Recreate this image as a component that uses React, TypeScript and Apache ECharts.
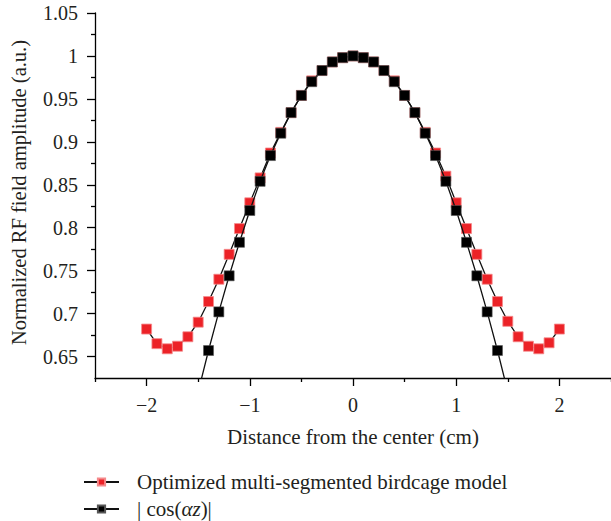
import React, { useEffect, useRef } from "react";
import * as echarts from "echarts";

const optName = "Optimized multi-segmented birdcage model";
const cosName = "| cos(αz)|";

const optX = [-2, -1.9, -1.8, -1.7, -1.6, -1.5, -1.4, -1.3, -1.2, -1.1, -1.0, -0.9, -0.8, -0.7, -0.6, -0.5, -0.4, -0.3, -0.2, -0.1, 0, 0.1, 0.2, 0.3, 0.4, 0.5, 0.6, 0.7, 0.8, 0.9, 1.0, 1.1, 1.2, 1.3, 1.4, 1.5, 1.6, 1.7, 1.8, 1.9, 2.0];
const optY = [0.682, 0.665, 0.659, 0.662, 0.673, 0.690, 0.714, 0.740, 0.769, 0.799, 0.829, 0.858, 0.887, 0.911, 0.934, 0.954, 0.971, 0.983, 0.993, 0.998, 1.0, 0.998, 0.993, 0.983, 0.971, 0.954, 0.934, 0.911, 0.887, 0.860, 0.829, 0.799, 0.769, 0.740, 0.714, 0.691, 0.673, 0.662, 0.659, 0.666, 0.682];

const cosX = [-1.5, -1.4, -1.3, -1.2, -1.1, -1.0, -0.9, -0.8, -0.7, -0.6, -0.5, -0.4, -0.3, -0.2, -0.1, 0, 0.1, 0.2, 0.3, 0.4, 0.5, 0.6, 0.7, 0.8, 0.9, 1.0, 1.1, 1.2, 1.3, 1.4, 1.5];
const cosY = [0.609, 0.657, 0.702, 0.744, 0.783, 0.820, 0.854, 0.884, 0.910, 0.934, 0.954, 0.970, 0.983, 0.993, 0.998, 1.0, 0.998, 0.993, 0.983, 0.970, 0.954, 0.934, 0.910, 0.884, 0.854, 0.820, 0.783, 0.744, 0.702, 0.657, 0.609];

const xTicks = [-2, -1, 0, 1, 2];
const xMinorTicks = [-2.5, -1.5, -0.5, 0.5, 1.5, 2.5];
const yTicks = [0.65, 0.7, 0.75, 0.8, 0.85, 0.9, 0.95, 1, 1.05];
const yMinorTicks = [0.675, 0.725, 0.775, 0.825, 0.875, 0.925, 0.975, 1.025];

const FONT = "'Liberation Serif', 'Times New Roman', serif";
const TXT = "#231f20";

export default function App() {
  const ref = useRef<HTMLDivElement>(null);
  useEffect(() => {
    if (!ref.current) return;
    const chart = echarts.init(ref.current, null, { renderer: "svg" });
    const fmtX = (v: number) => (v < 0 ? "\u2212" + Math.abs(v) : String(v));
    const legendText = {
      fontFamily: FONT,
      fontSize: 21,
      lineHeight: 22,
      color: TXT,
      padding: [0, 0, 0, 13],
      rich: {
        it: { fontFamily: FONT, fontSize: 21, lineHeight: 22, fontStyle: "italic", color: TXT },
      },
    };
    chart.setOption({
      animation: false,
      backgroundColor: "#ffffff",
      grid: { left: 91, top: 13, width: 522, height: 365, containLabel: false },
      xAxis: [
        {
          type: "value",
          min: -2.5,
          max: 2.5,
          name: "Distance from the center (cm)",
          nameLocation: "middle",
          nameGap: 48,
          nameTextStyle: { fontFamily: FONT, fontSize: 21, color: TXT },
          axisLine: { show: true, onZero: false, lineStyle: { color: "#000", width: 1.3 } },
          axisTick: { show: true, inside: false, length: 8, customValues: xTicks, lineStyle: { color: "#000", width: 1.3 } },
          axisLabel: { show: true, customValues: xTicks, margin: 17, formatter: fmtX, fontFamily: FONT, fontSize: 20, color: TXT },
          splitLine: { show: false },
        },
        {
          type: "value",
          min: -2.5,
          max: 2.5,
          position: "bottom",
          axisLine: { show: false, onZero: false },
          axisTick: { show: true, length: 4, customValues: xMinorTicks, lineStyle: { color: "#000", width: 1.3 } },
          axisLabel: { show: false },
          splitLine: { show: false },
        },
      ],
      yAxis: [
        {
          type: "value",
          min: 0.625,
          max: 1.05,
          name: "Normalized RF field amplitude (a.u.)",
          nameLocation: "middle",
          nameGap: 66,
          nameTextStyle: { fontFamily: FONT, fontSize: 20.5, color: TXT, padding: [0, 0, 0, 6] },
          axisLine: { show: true, onZero: false, lineStyle: { color: "#000", width: 1.3 } },
          axisTick: { show: true, inside: false, length: 8, customValues: yTicks, lineStyle: { color: "#000", width: 1.3 } },
          axisLabel: { show: true, customValues: yTicks, margin: 17, fontFamily: FONT, fontSize: 20, color: TXT },
          splitLine: { show: false },
        },
        {
          type: "value",
          min: 0.625,
          max: 1.05,
          position: "left",
          axisLine: { show: false, onZero: false },
          axisTick: { show: true, length: 4, customValues: yMinorTicks, lineStyle: { color: "#000", width: 1.3 } },
          axisLabel: { show: false },
          splitLine: { show: false },
        },
      ],
      legend: [
        {
          orient: "vertical",
          left: 83,
          top: 471,
          padding: 0,
          itemWidth: 35,
          itemHeight: 9,
          data: [optName],
          textStyle: legendText,
        },
        {
          orient: "vertical",
          left: 83,
          top: 498,
          padding: 0,
          itemWidth: 35,
          itemHeight: 9,
          data: [cosName],
          formatter: () => "| cos({it|αz})|",
          textStyle: legendText,
        },
      ],
      series: [
        {
          name: optName,
          type: "line",
          xAxisIndex: 0,
          yAxisIndex: 0,
          data: optX.map((x, i) => [x, optY[i]]),
          symbol: "rect",
          symbolSize: 10,
          itemStyle: { color: "#ec2227", borderColor: "#f58a8c", borderWidth: 0.8 },
          lineStyle: { color: "#111", width: 1.3 },
          clip: true,
          z: 2,
        },
        {
          name: cosName,
          type: "line",
          xAxisIndex: 0,
          yAxisIndex: 0,
          data: cosX.map((x, i) => [x, cosY[i]]),
          symbol: "rect",
          symbolSize: 10,
          itemStyle: { color: "#000", borderColor: "#555", borderWidth: 0.6 },
          lineStyle: { color: "#111", width: 1.3 },
          clip: true,
          z: 3,
        },
      ],
    });
    return () => chart.dispose();
  }, []);
  return (
    <div
      ref={ref}
      style={{ position: "fixed", left: 0, top: 0, width: 611, height: 521, background: "#fff" }}
    />
  );
}
